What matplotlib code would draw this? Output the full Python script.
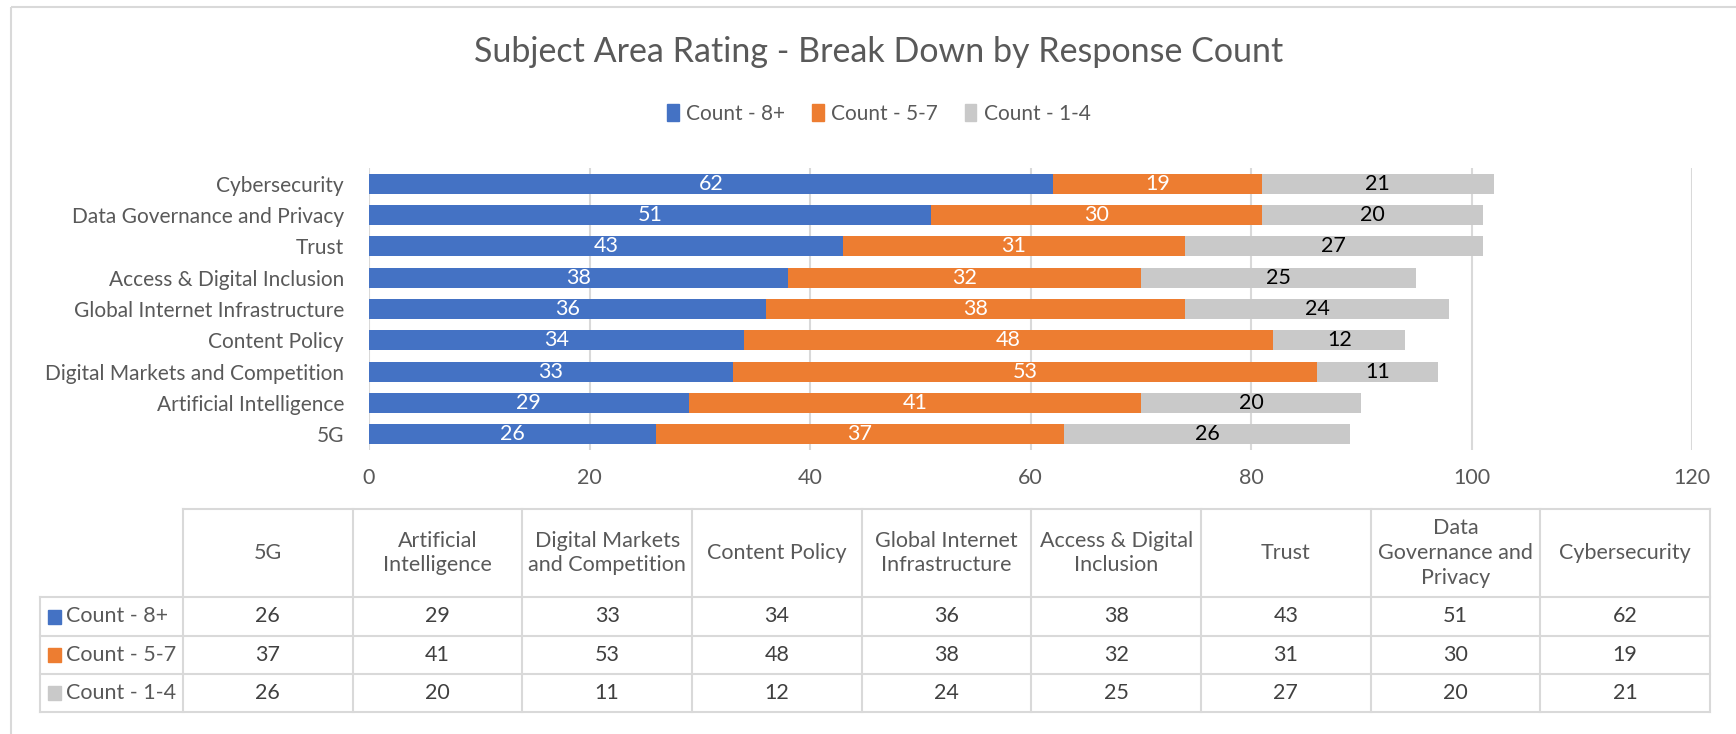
import matplotlib.pyplot as plt
from matplotlib.patches import Patch, Rectangle

plt.rcParams['font.family'] = ['Lato', 'DejaVu Sans']

# data, in table order (bottom bar first)
categories = ["5G", "Artificial Intelligence", "Digital Markets and Competition",
              "Content Policy", "Global Internet Infrastructure",
              "Access & Digital Inclusion", "Trust",
              "Data Governance and Privacy", "Cybersecurity"]
table_headers = ["5G", "Artificial\nIntelligence", "Digital Markets\nand Competition",
                 "Content Policy", "Global Internet\nInfrastructure",
                 "Access & Digital\nInclusion", "Trust",
                 "Data\nGovernance and\nPrivacy", "Cybersecurity"]
series_names = ["Count - 8+", "Count - 5-7", "Count - 1-4"]
count_8plus = [26, 29, 33, 34, 36, 38, 43, 51, 62]
count_5to7 = [37, 41, 53, 48, 38, 32, 31, 30, 19]
count_1to4 = [26, 20, 11, 12, 24, 25, 27, 20, 21]
x_ticks = [0, 20, 40, 60, 80, 100, 120]

colors = ["#4472C4", "#ED7D31", "#C9C9C9"]
label_colors = ["white", "white", "black"]
grid_color = "#D9D9D9"
text_color = "#595959"

W, H = 1736, 734


def fig_box(x0, y0, x1, y1):
    # pixel box (top-left origin) -> figure fraction rect
    return [x0 / W, 1 - y1 / H, (x1 - x0) / W, (y1 - y0) / H]


fig = plt.figure(figsize=(W / 100, H / 100), dpi=100)

# chart frame
frame = fig.add_axes([0, 0, 1, 1])
frame.set_xlim(0, W)
frame.set_ylim(H, 0)
frame.axis("off")
frame.add_patch(Rectangle((11, 7), W, H, fill=False, edgecolor=grid_color, lw=1.5))

fig.text(879 / W, 1 - 52 / H, "Subject Area Rating - Break Down by Response Count",
         ha="center", va="center", fontsize=24.5, color=text_color)

# bars
ax = fig.add_axes(fig_box(369, 168, 1692, 450))
series = [count_8plus, count_5to7, count_1to4]
pos = list(range(len(categories)))
left = [0] * len(categories)
for vals, name, col, lcol in zip(series, series_names, colors, label_colors):
    bars = ax.barh(pos, vals, left=left, height=0.64, color=col, label=name, zorder=3)
    ax.bar_label(bars, labels=[str(v) for v in vals], label_type="center",
                 color=lcol, fontsize=15.5)
    left = [a + b for a, b in zip(left, vals)]

ax.set_xlim(0, 120)
ax.set_ylim(-0.5, len(categories) - 0.5)
ax.set_xticks(x_ticks)
ax.set_yticks(pos)
ax.set_yticklabels(categories)
ax.tick_params(axis="y", length=0, pad=18, labelsize=15, labelcolor=text_color)
ax.tick_params(axis="x", length=0, pad=13, labelsize=15.5, labelcolor=text_color)
ax.grid(axis="x", color=grid_color, lw=1.5, zorder=0)
for s in ax.spines.values():
    s.set_visible(False)

handles = [Patch(color=c, label=n) for c, n in zip(colors, series_names)]
fig.legend(handles=handles, loc="center", bbox_to_anchor=(879 / W, 1 - 114 / H),
           ncol=3, frameon=False, fontsize=15, handlelength=0.55, handleheight=0.85,
           handletextpad=0.35, columnspacing=1.3, labelcolor=text_color)

# data table below
col_left = 183
col_w = (1710 - 183) / len(categories)
top, head_bot = 509, 597
row_edges = [597, 636, 674, 712]
lw = 1.5
frame.plot([col_left, 1710], [top, top], color=grid_color, lw=lw)
for y in row_edges:
    frame.plot([40, 1710], [y, y], color=grid_color, lw=lw)
frame.plot([40, 40], [head_bot, 712], color=grid_color, lw=lw)
for k in range(len(categories) + 1):
    x = col_left + k * col_w
    frame.plot([x, x], [top, 712], color=grid_color, lw=lw)

for k, hdr in enumerate(table_headers):
    frame.text(col_left + (k + 0.5) * col_w, (top + head_bot) / 2, hdr,
               ha="center", va="center", fontsize=15.5, color=text_color,
               linespacing=1.3)

for r, (vals, name, col) in enumerate(zip(series, series_names, colors)):
    yc = (row_edges[r] + row_edges[r + 1]) / 2
    frame.add_patch(Rectangle((48, yc - 7), 13, 14, color=col))
    frame.text(66, yc, name, ha="left", va="center", fontsize=15.5, color=text_color)
    for k, v in enumerate(vals):
        frame.text(col_left + (k + 0.5) * col_w, yc, str(v), ha="center",
                   va="center", fontsize=15.5, color="#404040")

fig.savefig("out.png", dpi=100)
